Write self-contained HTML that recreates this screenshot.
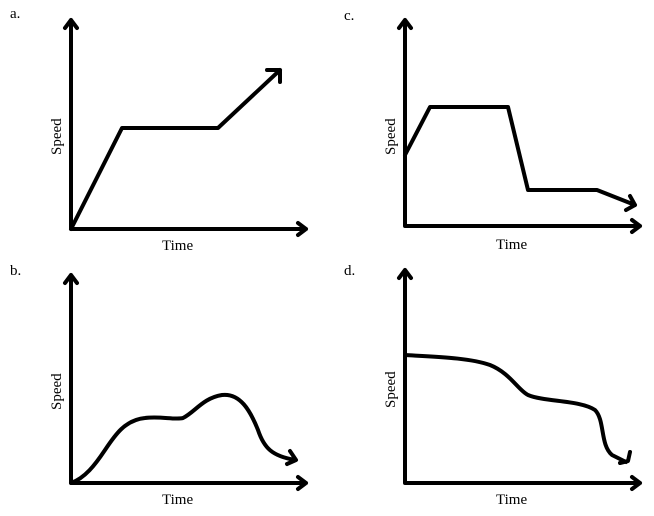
<!DOCTYPE html>
<html><head><style>body{margin:0;background:#fff}svg{display:block}</style></head><body>
<svg width="654" height="516" viewBox="0 0 654 516" xmlns="http://www.w3.org/2000/svg">
<g fill="none" stroke="#000" stroke-width="4" stroke-linecap="round" stroke-linejoin="round">
<!-- a -->
<path d="M71 229V20M65 28L71 20L77 28M71 229H306M298 223L306 229L298 235"/>
<path d="M71 229L122 128H218L280 70M267 70L280 70L280 82"/>
<!-- c -->
<path d="M405 226V20M399 28L405 20L411 28M405 226H640M632 220L640 226L632 232"/>
<path d="M405 155L430 107H508L528 190H597L635 205M630 196L635 205L626 210"/>
<!-- b -->
<path d="M71 483V275M65 283L71 275L77 283M71 483H306M298 477L306 483L298 489"/>
<path d="M71 483C85 478 95 465 105 450C115 435 125 420 145 418C160 416 175 420 183 418C195 412 203 398 222 395C240 393 250 410 258 430C264 448 272 456 295 460M290 451L296 460L287 464"/>
<!-- d -->
<path d="M405 483V270M399 278L405 270L411 278M405 483H640M632 477L640 483L632 489"/>
<path d="M405 355C440 357 470 358 490 365C510 373 518 390 528 395C545 402 580 400 595 410C605 420 600 445 612 455L626 462M630 452L628 461L620 463"/>
</g>
<g font-family="Liberation Serif, serif" font-size="15" fill="#000">
<text x="10" y="18">a.</text>
<text x="344" y="20">c.</text>
<text x="10" y="275">b.</text>
<text x="344" y="275">d.</text>
<text x="162" y="250">Time</text>
<text x="496" y="249">Time</text>
<text x="162" y="504">Time</text>
<text x="496" y="504">Time</text>
<text transform="translate(61,155) rotate(-90)">Speed</text>
<text transform="translate(395,155) rotate(-90)">Speed</text>
<text transform="translate(61,410) rotate(-90)">Speed</text>
<text transform="translate(395,408) rotate(-90)">Speed</text>
</g>
</svg>
</body></html>
